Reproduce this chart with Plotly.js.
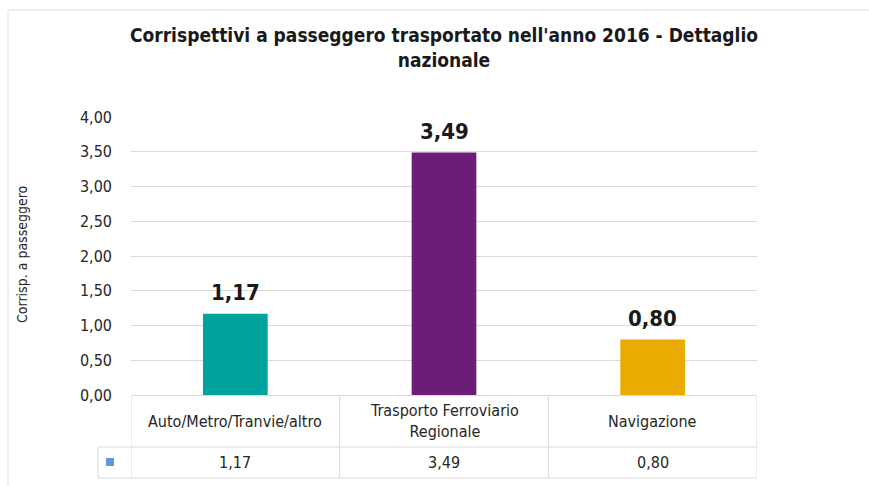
<!DOCTYPE html>
<html><head><meta charset="utf-8">
<script src="https://cdn.plot.ly/plotly-3.0.1.min.js"></script>
<style>html,body{margin:0;padding:0;background:#fff}#chart{width:869px;height:486px}</style>
</head><body><div id="chart"></div>
<script>
const categories = ["Auto/Metro/Tranvie/altro", "Trasporto Ferroviario<br>Regionale", "Navigazione"];
const values = [1.17, 3.49, 0.80];
const barColors = ["#00A39E", "#6C1D77", "#EAAA00"];
const yTicks = [0, 0.5, 1, 1.5, 2, 2.5, 3, 3.5, 4];

const FONT = '"Liberation Sans Narrow", "Arial Narrow", "DejaVu Sans Condensed", sans-serif';
const L = 131, R = 757, T = 117, B = 395, W = 869, H = 486;
const pw = R - L, ph = B - T;
const py = v => (B - v) / ph;           // pixel y -> paper y
const pxp = v => (v - L) / pw;          // pixel x -> paper x
const fmt = v => v.toFixed(2).replace('.', ',');

const lineC = '#d9d9d9';
const shapes = [];
// table lines (paper-referenced so they can extend left of the plot)
shapes.push({type:'line', xref:'paper', yref:'paper', x0:pxp(98), x1:1, y0:py(447), y1:py(447), line:{color:lineC,width:1}});
shapes.push({type:'line', xref:'paper', yref:'paper', x0:pxp(98), x1:1, y0:py(478), y1:py(478), line:{color:lineC,width:1}});
shapes.push({type:'line', xref:'paper', yref:'paper', x0:pxp(98), x1:pxp(98), y0:py(447), y1:py(478), line:{color:lineC,width:1}});
for (let i = 0; i <= categories.length; i++) {
  shapes.push({type:'line', xref:'x', yref:'paper', x0:i-0.5, x1:i-0.5, y0:0, y1:py(478), line:{color:lineC,width:1}});
}
// legend key square
shapes.push({type:'rect', xref:'paper', yref:'paper', x0:pxp(106), x1:pxp(114), y0:py(466), y1:py(458), fillcolor:'#5B9BD5', line:{width:0}});
// outer frame
shapes.push({type:'line', xref:'paper', yref:'paper', x0:pxp(8), x1:pxp(8), y0:py(10), y1:py(H+5), line:{color:'#e0e0e0',width:1}});
shapes.push({type:'line', xref:'paper', yref:'paper', x0:pxp(8), x1:pxp(W+5), y0:py(10), y1:py(10), line:{color:'#e0e0e0',width:1}});

const annotations = [];
categories.forEach((c, i) => {
  annotations.push({xref:'x', yref:'paper', x:i, y:py(421), text:c, showarrow:false, font:{family:FONT, size:16, color:'#262626'}, xanchor:'center', yanchor:'middle'});
  annotations.push({xref:'x', yref:'paper', x:i, y:py(462), text:fmt(values[i]), showarrow:false, font:{family:FONT, size:16, color:'#262626'}, xanchor:'center', yanchor:'middle'});
  // data labels above bars
  annotations.push({xref:'x', yref:'y', x:i, y:values[i], text:'<b>'+fmt(values[i])+'</b>', showarrow:false, yshift:21, font:{family:FONT, size:22, color:'#1a1a1a'}, xanchor:'center', yanchor:'middle'});
});
annotations.push({xref:'paper', yref:'paper', x:pxp(22), y:py(254), text:'Corrisp. a passeggero', textangle:-90, showarrow:false, font:{family:FONT, size:14, color:'#262626'}, xanchor:'center', yanchor:'middle'});

const trace = {
  type:'bar', x:[0,1,2], y:values,
  marker:{color:barColors, line:{width:0}},
  hoverinfo:'none'
};

const layout = {
  width:W, height:H,
  margin:{l:L, r:W-R, t:T, b:H-B},
  paper_bgcolor:'#fff', plot_bgcolor:'#fff',
  separators:',.',
  bargap:0.69,
  showlegend:false,
  title:{text:"<b>Corrispettivi a passeggero trasportato nell'anno 2016 - Dettaglio<br>nazionale</b>",
    font:{family:FONT, size:19, color:'#1a1a1a'}, xref:'paper', x:0.5, xanchor:'center',
    yref:'container', y:1-42/H, yanchor:'middle'},
  xaxis:{range:[-0.5, categories.length-0.5], showticklabels:false, showgrid:false, zeroline:false, showline:false, ticks:'', fixedrange:true},
  yaxis:{range:[0,4], tickvals:yTicks, tickformat:'.2f', showgrid:true, gridcolor:lineC, gridwidth:1,
    zeroline:true, zerolinecolor:lineC, zerolinewidth:1, showline:false, ticks:'', ticklabelstandoff:18,
    tickfont:{family:FONT, size:16, color:'#262626'}},
  shapes:shapes, annotations:annotations,
  font:{family:FONT}
};
Plotly.newPlot('chart', [trace], layout, {displayModeBar:false, staticPlot:true});
</script></body></html>
